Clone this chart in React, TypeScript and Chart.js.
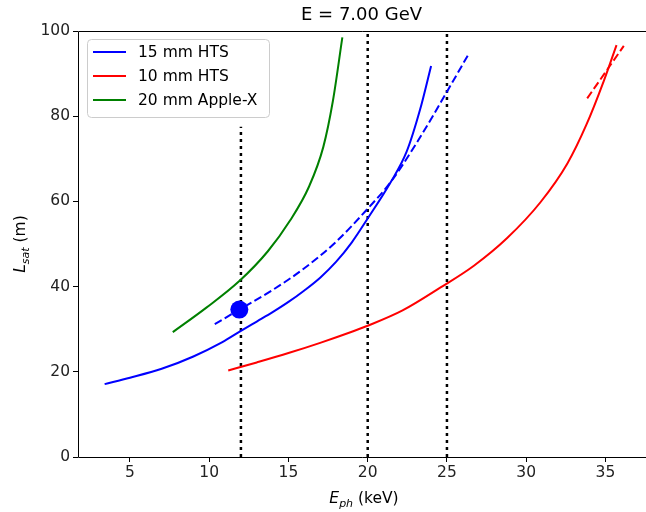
import React, { useEffect, useRef } from 'react';
import { Chart, registerables } from 'chart.js';

Chart.register(...registerables);

const TITLE = 'E = 7.00 GeV';
const X_MIN = 1.72;
const X_MAX = 37.56;
const Y_MIN = 0;
const Y_MAX = 100;
const X_TICKS = [5, 10, 15, 20, 25, 30, 35];
const Y_TICKS = [0, 20, 40, 60, 80, 100];
const LEGEND_LABELS = ['15 mm HTS', '10 mm HTS', '20 mm Apple-X'];
const LEGEND_COLORS = ['#0000ff', '#ff0000', '#008000'];

const HTS15_X = [3.4, 5, 7, 9, 10.8, 12, 13, 14, 15, 16, 17, 18, 19, 20, 21.4, 22.45, 23.3, 24.0];
const HTS15_Y = [17.1, 18.6, 20.7, 23.6, 26.9, 29.6, 31.8, 34.0, 36.4, 39.1, 42.1, 45.8, 50.4, 56.0, 64.2, 71.6, 81.5, 91.8];
const HTS15_DASH_X = [10.35, 12, 14, 16, 18, 20, 21.4, 23.1, 25.1, 26.4];
const HTS15_DASH_Y = [31.2, 34.8, 39.2, 44.3, 50.5, 58.3, 64.3, 73.8, 86.4, 94.8];
const HTS10_X = [11.2, 13, 15, 17, 19, 20, 22.2, 24.6, 26.7, 28.8, 30.9, 32.6, 33.8, 34.9, 35.7];
const HTS10_Y = [20.3, 22.2, 24.4, 26.8, 29.4, 30.8, 34.4, 39.8, 44.9, 51.4, 59.8, 68.9, 78.0, 88.3, 96.7];
const HTS10_DASH_X = [33.85, 36.16];
const HTS10_DASH_Y = [84.2, 96.5];
const APPLEX_X = [7.7, 9.8, 11.9, 13.7, 15.1, 16.3, 17.2, 17.8, 18.4];
const APPLEX_Y = [29.3, 35.0, 41.3, 48.3, 55.5, 63.5, 72.8, 83.5, 98.5];
const MARKER_X = [11.9];
const MARKER_Y = [34.6];
const VLINE_X = [12, 20, 25];
const VLINE_BOTTOM = [0, 0, 0];
const VLINE_TOP = [77.5, 100, 100];

const FONT = "'DejaVu Sans', sans-serif";

const pts = (xs: number[], ys: number[]) => xs.map((x, i) => ({ x, y: ys[i] }));

const curve = (xs: number[], ys: number[], color: string, dash: number[] = []) => ({
  data: pts(xs, ys),
  showLine: true,
  borderColor: color,
  backgroundColor: color,
  borderWidth: 2,
  borderDash: dash,
  pointRadius: 0,
  pointHoverRadius: 0,
  cubicInterpolationMode: 'monotone' as const,
});

const decorPlugin = {
  id: 'decor',
  afterDraw(chart: any) {
    const { ctx, chartArea } = chart;
    const { left, right, top, bottom } = chartArea;
    ctx.save();
    // spines (left, top, bottom)
    ctx.strokeStyle = '#000';
    ctx.lineWidth = 1;
    ctx.beginPath();
    ctx.moveTo(right, top + 0.5);
    ctx.lineTo(left + 0.5, top + 0.5);
    ctx.lineTo(left + 0.5, bottom + 0.5);
    ctx.lineTo(right, bottom + 0.5);
    ctx.stroke();
    // title
    ctx.fillStyle = '#000';
    ctx.font = `18px ${FONT}`;
    ctx.textAlign = 'center';
    ctx.textBaseline = 'alphabetic';
    ctx.fillText(TITLE, 361.5, 20);

    // legend
    const lx = 87.5, ly = 39.5, lw = 182, lh = 78;
    ctx.beginPath();
    ctx.roundRect(lx, ly, lw, lh, 4);
    ctx.fillStyle = 'rgba(255,255,255,0.8)';
    ctx.fill();
    ctx.strokeStyle = '#cccccc';
    ctx.lineWidth = 1;
    ctx.stroke();
    ctx.font = `15.5px ${FONT}`;
    ctx.textAlign = 'left';
    ctx.textBaseline = 'middle';
    LEGEND_LABELS.forEach((lab, i) => {
      const yy = 52 + i * 24;
      ctx.strokeStyle = LEGEND_COLORS[i];
      ctx.lineWidth = 2;
      ctx.beginPath();
      ctx.moveTo(93, yy);
      ctx.lineTo(126, yy);
      ctx.stroke();
      ctx.fillStyle = '#000';
      ctx.fillText(lab, 138, yy + 1);
    });

    // x axis title: E_ph (keV)
    ctx.textBaseline = 'alphabetic';
    ctx.fillStyle = '#000';
    const big = `italic 15.5px ${FONT}`;
    const small = `italic 11px ${FONT}`;
    const reg = `15.5px ${FONT}`;
    ctx.font = big; const wE = ctx.measureText('E').width;
    ctx.font = small; const wph = ctx.measureText('ph').width;
    ctx.font = reg; const wk = ctx.measureText(' (keV)').width;
    const tot = wE + wph + wk;
    let x0 = 364 - tot / 2;
    const by = 503;
    ctx.textAlign = 'left';
    ctx.font = big; ctx.fillText('E', x0, by); x0 += wE;
    ctx.font = small; ctx.fillText('ph', x0, by + 3.5); x0 += wph;
    ctx.font = reg; ctx.fillText(' (keV)', x0, by);

    // y axis title: L_sat (m)
    ctx.save();
    ctx.translate(25, (top + bottom) / 2);
    ctx.rotate(-Math.PI / 2);
    ctx.font = big; const wL = ctx.measureText('L').width;
    ctx.font = small; const ws = ctx.measureText('sat').width;
    ctx.font = reg; const wm = ctx.measureText(' (m)').width;
    let y0 = -(wL + ws + wm) / 2;
    ctx.font = big; ctx.fillText('L', y0, 0); y0 += wL;
    ctx.font = small; ctx.fillText('sat', y0, 3.5); y0 += ws;
    ctx.font = reg; ctx.fillText(' (m)', y0, 0);
    ctx.restore();

    ctx.restore();
  },
};

export default function App() {
  const ref = useRef<HTMLCanvasElement | null>(null);
  useEffect(() => {
    if (!ref.current) return;
    Chart.defaults.font.family = FONT;
    const vlines = VLINE_X.map((x, i) => ({
      data: [{ x, y: VLINE_BOTTOM[i] }, { x, y: VLINE_TOP[i] }],
      showLine: true,
      borderColor: '#000',
      borderWidth: 2.5,
      borderDash: [3, 4],
      pointRadius: 0,
      pointHoverRadius: 0,
    }));
    const chart = new Chart(ref.current, {
      type: 'scatter',
      data: {
        datasets: [
          {
            data: pts(MARKER_X, MARKER_Y),
            pointRadius: 9,
            pointHoverRadius: 9,
            backgroundColor: '#0000ff',
            borderWidth: 0,
            showLine: false,
          } as any,
          curve(HTS15_X, HTS15_Y, '#0000ff'),
          curve(HTS10_X, HTS10_Y, '#ff0000'),
          curve(APPLEX_X, APPLEX_Y, '#008000'),
          curve(HTS15_DASH_X, HTS15_DASH_Y, '#0000ff', [8, 3.5]),
          curve(HTS10_DASH_X, HTS10_DASH_Y, '#ff0000', [8, 3.5]),
          ...vlines,
        ],
      },
      options: {
        responsive: false,
        animation: false,
        events: [],
        layout: { autoPadding: false, padding: { top: 31, right: 0, left: 0, bottom: 0 } },
        plugins: {
          legend: { display: false },
          tooltip: { enabled: false },
          title: { display: false },
        },
        scales: {
          x: {
            type: 'linear',
            min: X_MIN,
            max: X_MAX,
            afterBuildTicks: (s: any) => { s.ticks = X_TICKS.map((v) => ({ value: v })); },
            afterFit: (s: any) => { s.height = 55; s.paddingLeft = 0; s.paddingRight = 0; s.paddingTop = 0; s.paddingBottom = 0; },
            grid: { display: true, drawOnChartArea: false, drawTicks: true, tickLength: 5, color: '#000', lineWidth: 1 },
            border: { display: false },
            ticks: { color: '#222', font: { size: 15.5, family: FONT }, padding: 2, maxRotation: 0 },
          },
          y: {
            type: 'linear',
            min: Y_MIN,
            max: Y_MAX,
            afterBuildTicks: (s: any) => { s.ticks = Y_TICKS.map((v) => ({ value: v })); },
            afterFit: (s: any) => { s.width = 78; s.paddingLeft = 0; s.paddingRight = 0; s.paddingTop = 0; s.paddingBottom = 0; },
            grid: { display: true, drawOnChartArea: false, drawTicks: true, tickLength: 5, color: '#000', lineWidth: 1 },
            border: { display: false },
            ticks: { color: '#222', font: { size: 15.5, family: FONT }, padding: 3 },
          },
        },
      },
      plugins: [decorPlugin],
    });
    return () => chart.destroy();
  }, []);
  return (
    <div style={{ position: 'fixed', left: 0, top: 0, width: 646, height: 512, background: '#fff' }}>
      <canvas ref={ref} width={646} height={512} style={{ display: 'block' }} />
    </div>
  );
}
